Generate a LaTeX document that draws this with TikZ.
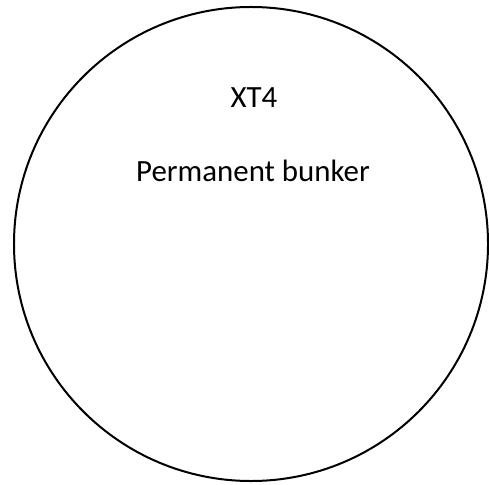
\documentclass[tikz,border=0pt]{standalone}
\usepackage{fontspec}
\setmainfont{Carlito}

\begin{document}
\begin{tikzpicture}[x=1bp,y=-1bp]
 \tikzset{label/.style={font=\fontsize{31}{36}\selectfont,inner sep=0pt}}
 \useasboundingbox (0,0) rectangle (489,485);
 \node[circle,draw,line width=2bp,minimum size=474bp,inner sep=0pt] (bunker) at (251,244) {};
 \node[label] (name) at (254,98) {XT4};
 \node[label] (kind) at (253,171) {Permanent bunker};
\end{tikzpicture}
\end{document}
